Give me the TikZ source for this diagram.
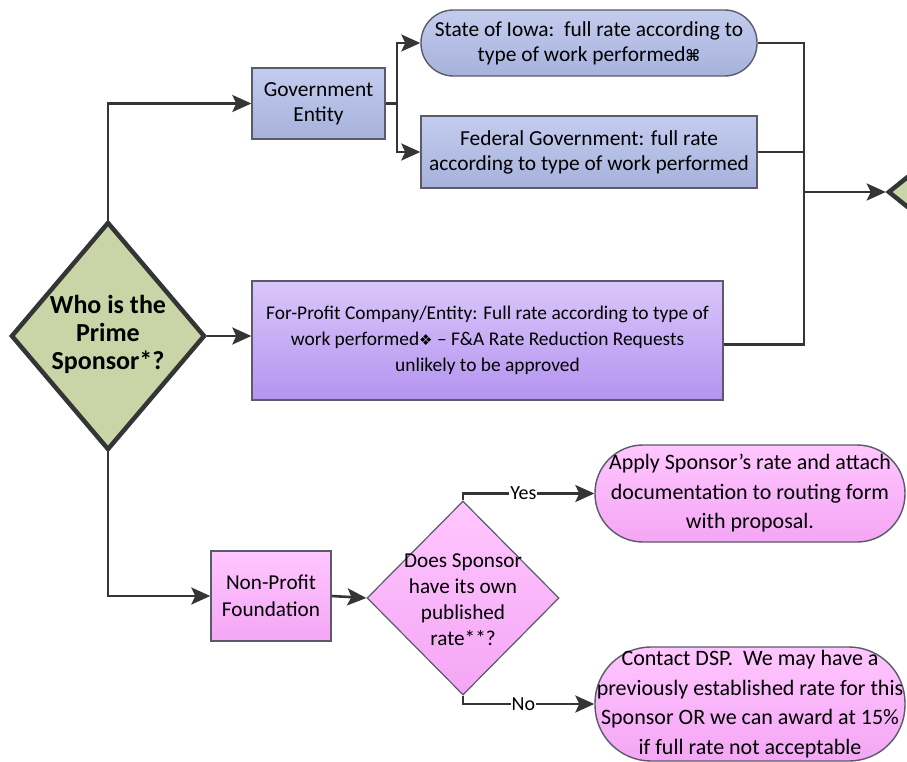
\documentclass[tikz,border=0pt]{standalone}
\usepackage{fontspec}
\setmainfont{Carlito}
\newfontfamily\symfont{DejaVu Sans}
\usetikzlibrary{shapes.geometric,arrows.meta}
\definecolor{lineC}{HTML}{353535}
\definecolor{edgeC}{HTML}{5A5A6A}
\definecolor{blueT}{HTML}{C4CCEE}
\definecolor{blueB}{HTML}{A6B2DC}
\definecolor{purT}{HTML}{D9C6FA}
\definecolor{purB}{HTML}{B494F0}
\definecolor{pinkT}{HTML}{FFC6FF}
\definecolor{pinkB}{HTML}{F4A6F4}
\definecolor{greenF}{HTML}{C9D5A6}
\tikzset{
  conn/.style={draw=lineC, line width=2.6pt},
  arr/.style={conn, -{Stealth[length=19pt,width=17pt,inset=4pt]}},
  bluebox/.style={draw=edgeC, line width=1.4pt, top color=blueT, bottom color=blueB, inner sep=0pt, align=center, font=\fontsize{21.4}{25}\selectfont},
  purbox/.style={draw=edgeC, line width=1.4pt, top color=purT, bottom color=purB, inner sep=0pt, align=center, font=\fontsize{19.4}{26}\selectfont},
  pinkbox/.style={draw=edgeC, line width=1.4pt, top color=pinkT, bottom color=pinkB, inner sep=0pt, align=center, font=\fontsize{21.2}{27}\selectfont},
  pinkstad/.style={draw=edgeC, line width=1.4pt, top color=pinkT, bottom color=pinkB, inner sep=0pt, align=center, font=\fontsize{22}{29.5}\selectfont},
  maindia/.style={diamond, draw=lineC, line width=4.5pt, fill=greenF, inner sep=0pt},
  txt/.style={align=center, inner sep=0pt},
  lab/.style={fill=white, inner sep=1pt, font=\fontsize{20}{22}\selectfont},
}
\begin{document}
\begin{tikzpicture}[x=1pt,y=-1pt]
\useasboundingbox[fill=white] (0,0) rectangle (907,762);

% main decision
\node[maindia, minimum width=194pt, minimum height=228pt] (d1) at (108,336) {};
\node[txt, font=\bfseries\fontsize{26}{28}\selectfont] (d1t) at (108,334) {Who is the\\Prime\\Sponsor*?};

% government
\node[bluebox, minimum width=133pt, minimum height=71pt] (gov) at (318.5,103.5) {Government\\Entity};
\node[bluebox, rounded corners=32.5pt, minimum width=336pt, minimum height=66pt] (iowa) at (589,43) {State of Iowa:\ \ full rate according to\\type of work performed{\symfont\bfseries\fontsize{16}{20}\selectfont ⌘}};
\node[bluebox, minimum width=336pt, minimum height=72pt] (fed) at (589,152) {Federal Government: full rate\\according to type of work performed};

% for-profit
\node[purbox, minimum width=471pt, minimum height=119pt] (fp) at (487.5,340.5) {For-Profit Company/Entity: Full rate according to type of\\work performed{\symfont\fontsize{15}{20}\selectfont ❖} -- F\&A Rate Reduction Requests\\unlikely to be approved};

% partial next decision at right edge
\node[maindia, minimum width=194pt, minimum height=156pt] (d3) at (985,192) {};

% non-profit
\node[pinkbox, minimum width=120pt, minimum height=90pt] (np) at (271,596) {Non-Profit\\Foundation};
\node[diamond, draw=edgeC, line width=1.2pt, top color=pinkT, bottom color=pinkB, inner sep=0pt, minimum width=192pt, minimum height=194pt] (d2) at (463,598) {};
\node[txt, font=\fontsize{21.2}{26}\selectfont] (d2t) at (463,600) {Does Sponsor\\have its own\\published\\rate**?};
\node[pinkstad, rounded corners=48pt, minimum width=310pt, minimum height=97pt] (apply) at (750,493.5) {Apply Sponsor’s rate and attach\\documentation to routing form\\with proposal.};
\node[pinkstad, rounded corners=56pt, minimum width=310pt, minimum height=114pt] (contact) at (750,704) {Contact DSP.\ \ We may have a\\previously established rate for this\\Sponsor OR we can award at 15\%\\if full rate not acceptable};

% connectors
\draw[arr] (d1.north) |- (gov.west);
\coordinate (gj) at (397,103.5);
\draw[conn] (gov.east) -- (gj);
\draw[arr] (gj) |- (iowa.west);
\draw[arr] (gj) |- (fed.west);
\draw[arr] (d1.east) -- (d1.east -| fp.west);
\coordinate (rj) at (804,192);
\draw[conn] (iowa.east) -| (rj);
\draw[conn] (fed.east) -- (fed.east -| rj);
\draw[conn] ([yshift=-4pt]fp.east) -| (rj);
\draw[arr] (rj) -- (d3.west);
\draw[arr] (d1.south) |- (np.west);
\draw[arr] (np.east) -- (d2.west);
\draw[arr] (d2.north) |- node[lab, pos=0.73] (yes) {Yes} (apply.west);
\draw[arr] (d2.south) |- node[lab, pos=0.73] (no) {No} (contact.west);
\end{tikzpicture}
\end{document}
